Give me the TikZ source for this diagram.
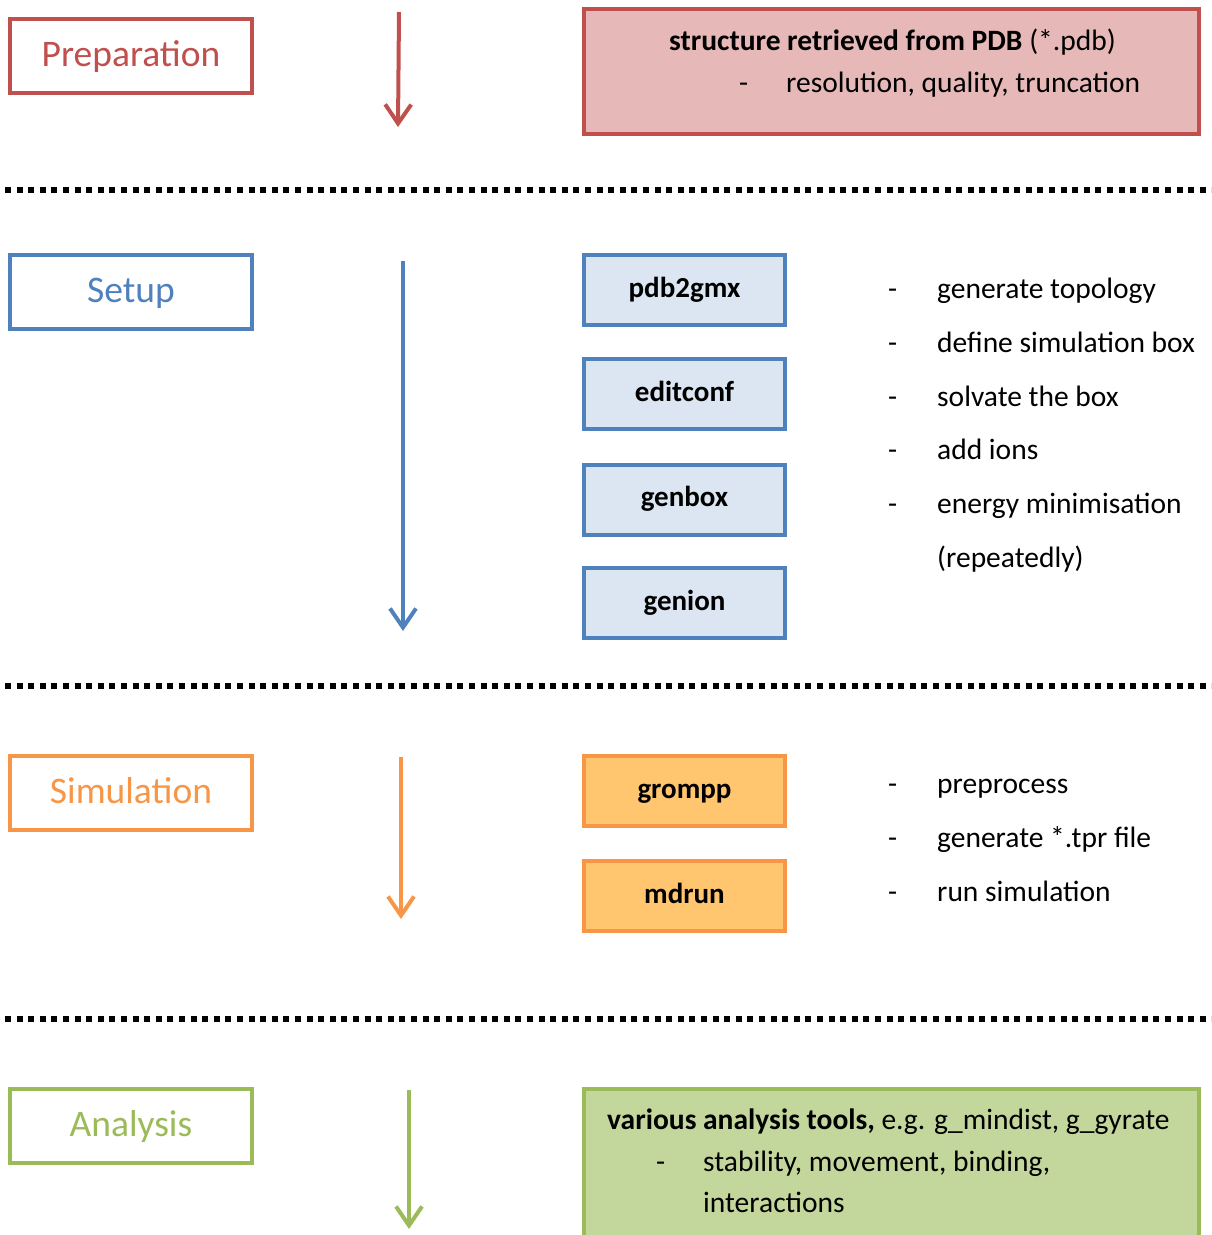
\documentclass[tikz,border=0pt]{standalone}
\usepackage{fontspec}
\setmainfont{Carlito}
\usetikzlibrary{arrows.meta}
\definecolor{redB}{HTML}{C0504D}\definecolor{redF}{HTML}{E6B9B8}
\definecolor{bluB}{HTML}{4F81BD}\definecolor{bluF}{HTML}{DCE6F2}
\definecolor{oraB}{HTML}{F79646}\definecolor{oraF}{HTML}{FFC56F}
\definecolor{grnB}{HTML}{9BBB59}\definecolor{grnF}{HTML}{C3D69B}
\tikzset{
  phase/.style={draw=#1, line width=4pt, fill=white, minimum width=242pt, minimum height=74pt,
    inner sep=0pt, text=#1, font=\fontsize{37.5}{44}\selectfont, text height=25pt, text depth=4pt},
  tool/.style={draw=#1B, fill=#1F, line width=4pt, minimum width=201pt, minimum height=70pt,
    inner sep=0pt, font=\fontsize{29}{35}\selectfont\bfseries, text height=20pt, text depth=6pt},
  bigbox/.style={draw=#1B, fill=#1F, line width=4pt, inner sep=0pt},
  flow/.style={draw=#1, line width=4pt, -{Straight Barb[length=19pt,width=26pt,line width=4pt]}},
  sep/.style={line width=6pt, dash pattern=on 6pt off 5.6pt},
  txt/.style={anchor=base west, inner sep=0pt, font=\fontsize{29.5}{35}\selectfont},
}
\begin{document}
\begin{tikzpicture}[x=1pt,y=-1pt]
\useasboundingbox (0,0) rectangle (1211,1235);
\clip (0,0) rectangle (1211,1235);
% separators
\coordinate (s1a) at (5,190); \coordinate (s1b) at (1215,190);
\coordinate (s2a) at (5,686); \coordinate (s2b) at (1215,686);
\coordinate (s3a) at (5,1019); \coordinate (s3b) at (1215,1019);
\draw[sep] (s1a) -- (s1b);
\draw[sep] (s2a) -- (s2b);
\draw[sep] (s3a) -- (s3b);
% phase labels
\node[phase=redB] (prep) at (131,55.5) {Preparation};
\node[phase=bluB] (setup) at (131,292) {Setup};
\node[phase=oraB] (sim) at (131,793) {Simulation};
\node[phase=grnB] (ana) at (131,1126) {Analysis};
% arrows
\coordinate (a1s) at (399,12); \coordinate (a1e) at (398,127);
\coordinate (a2s) at (403,261); \coordinate (a2e) at (403,631);
\coordinate (a3s) at (401,757); \coordinate (a3e) at (401,919);
\coordinate (a4s) at (409,1090); \coordinate (a4e) at (409,1229);
\draw[flow=redB] (a1s) -- (a1e);
\draw[flow=bluB] (a2s) -- (a2e);
\draw[flow=oraB] (a3s) -- (a3e);
\draw[flow=grnB] (a4s) -- (a4e);
% preparation box
\node[bigbox=red, minimum width=615pt, minimum height=125pt] (pdb) at (891.5,71.5) {};
\node[txt] (pdbt1) at (669,50) {\textbf{structure retrieved from PDB} (*.pdb)};
\node[txt] (pdbd) at (739,92) {-};
\node[txt] (pdbt2) at (786,92) {resolution, quality, truncation};
% setup tools
\node[tool=blu] (pdb2gmx) at (684.5,290) {pdb2gmx};
\node[tool=blu] (editconf) at (684.5,394) {editconf};
\node[tool=blu] (genbox) at (684.5,499.5) {genbox};
\node[tool=blu] (genion) at (684.5,603) {genion};
\node[txt] (d1) at (888,298) {-}; \node[txt] (t1) at (937,298) {generate topology};
\node[txt] (d2) at (888,352) {-}; \node[txt] (t2) at (937,352) {define simulation box};
\node[txt] (d3) at (888,406) {-}; \node[txt] (t3) at (937,406) {solvate the box};
\node[txt] (d4) at (888,459) {-}; \node[txt] (t4) at (937,459) {add ions};
\node[txt] (d5) at (888,513) {-}; \node[txt] (t5) at (937,513) {energy minimisation};
\node[txt] (t6) at (937,567) {(repeatedly)};
% simulation tools
\node[tool=ora] (grompp) at (684.5,791) {grompp};
\node[tool=ora] (mdrun) at (684.5,896) {mdrun};
\node[txt] (d7) at (888,793) {-}; \node[txt] (t7) at (937,793) {preprocess};
\node[txt] (d8) at (888,847) {-}; \node[txt] (t8) at (937,847) {generate *.tpr file};
\node[txt] (d9) at (888,901) {-}; \node[txt] (t9) at (937,901) {run simulation};
% analysis box
\node[bigbox=grn, minimum width=615pt, minimum height=200pt] (anabox) at (891.5,1189) {};
\node[txt] (at1) at (607,1129) {\textbf{various analysis tools,} e.g. g\_mindist, g\_gyrate};
\node[txt] (ad) at (656,1171) {-};
\node[txt] (at2) at (703,1171) {stability, movement, binding,};
\node[txt] (at3) at (703,1212) {interactions};
\end{tikzpicture}
\end{document}
